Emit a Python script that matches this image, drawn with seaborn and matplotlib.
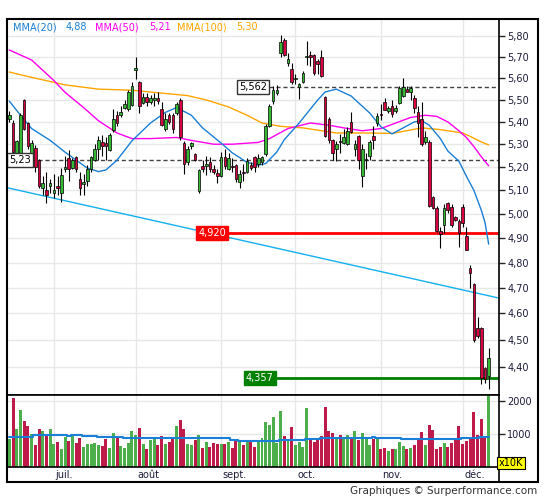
import numpy as np
import pandas as pd
import matplotlib
matplotlib.use('Agg')
import matplotlib.pyplot as plt
import seaborn as sns
from matplotlib.patches import Rectangle
from matplotlib.lines import Line2D
from matplotlib.ticker import FixedLocator, FuncFormatter, NullLocator

# daily candles, mid-June to early December (index 0..129)
opens = [5.415, 5.395, 5.26, 5.26, 5.50, 5.394, 5.26, 5.283, 5.23, 5.11,
         5.10, 5.12, 5.09, 5.12, 5.09, 5.19, 5.24, 5.195, 5.245, 5.15,
         5.125, 5.14, 5.19, 5.23, 5.28, 5.31, 5.305, 5.275, 5.365, 5.43,
         5.43, 5.465, 5.46, 5.475, 5.64, 5.585, 5.485, 5.515, 5.49, 5.50,
         5.51, 5.46, 5.37, 5.43, 5.43, 5.44, 5.50, 5.305, 5.22, 5.29,
         5.255, 5.095, 5.205, 5.205, 5.22, 5.19, 5.175, 5.16, 5.245, 5.19,
         5.205, 5.21, 5.135, 5.18, 5.18, 5.21, 5.245, 5.215, 5.22, 5.255,
         5.38, 5.495, 5.53, 5.72, 5.785, 5.675, 5.645, 5.595, 5.56, 5.585,
         5.70, 5.71, 5.71, 5.68, 5.70, 5.515, 5.415, 5.32, 5.28, 5.315,
         5.305, 5.30, 5.40, 5.28, 5.335, 5.16, 5.23, 5.25, 5.335, 5.395,
         5.435, 5.49, 5.45, 5.47, 5.45, 5.485, 5.52, 5.55, 5.535, 5.51,
         5.445, 5.415, 5.31, 5.31, 5.07, 5.025, 4.93, 4.955, 5.045, 5.03,
         4.985, 4.97, 5.03, 4.91, 4.78, 4.715, 4.545, 4.545, 4.395, 4.365]
highs = [5.45, 5.41, 5.32, 5.44, 5.505, 5.40, 5.32, 5.297, 5.235, 5.16,
         5.18, 5.15, 5.17, 5.16, 5.195, 5.25, 5.275, 5.24, 5.25, 5.18,
         5.17, 5.21, 5.25, 5.30, 5.335, 5.34, 5.33, 5.35, 5.46, 5.45,
         5.47, 5.50, 5.545, 5.585, 5.70, 5.59, 5.53, 5.53, 5.525, 5.53,
         5.535, 5.49, 5.44, 5.44, 5.44, 5.49, 5.51, 5.315, 5.29, 5.31,
         5.26, 5.19, 5.23, 5.25, 5.245, 5.21, 5.19, 5.265, 5.28, 5.26,
         5.24, 5.215, 5.185, 5.215, 5.24, 5.22, 5.25, 5.255, 5.25, 5.39,
         5.48, 5.565, 5.57, 5.807, 5.795, 5.72, 5.675, 5.62, 5.58, 5.635,
         5.78, 5.73, 5.715, 5.69, 5.735, 5.52, 5.42, 5.325, 5.315, 5.345,
         5.37, 5.375, 5.445, 5.32, 5.34, 5.30, 5.26, 5.32, 5.38, 5.44,
         5.48, 5.51, 5.47, 5.50, 5.475, 5.565, 5.60, 5.565, 5.565, 5.525,
         5.47, 5.49, 5.36, 5.32, 5.075, 5.035, 4.945, 5.04, 5.05, 5.04,
         4.99, 4.98, 5.04, 4.945, 4.79, 4.72, 4.585, 4.55, 4.40, 4.47]
lows = [5.40, 5.25, 5.245, 5.25, 5.365, 5.28, 5.23, 5.18, 5.11, 5.08,
        5.045, 5.09, 5.065, 5.08, 5.05, 5.18, 5.14, 5.19, 5.18, 5.08,
        5.08, 5.12, 5.18, 5.225, 5.23, 5.25, 5.23, 5.27, 5.355, 5.38,
        5.42, 5.46, 5.45, 5.47, 5.595, 5.44, 5.48, 5.47, 5.48, 5.47,
        5.48, 5.38, 5.36, 5.39, 5.35, 5.43, 5.32, 5.17, 5.21, 5.28,
        5.225, 5.09, 5.18, 5.165, 5.18, 5.17, 5.13, 5.155, 5.19, 5.185,
        5.18, 5.135, 5.11, 5.14, 5.175, 5.185, 5.18, 5.20, 5.21, 5.25,
        5.375, 5.48, 5.525, 5.70, 5.705, 5.66, 5.575, 5.575, 5.505, 5.58,
        5.665, 5.66, 5.615, 5.62, 5.605, 5.33, 5.305, 5.23, 5.225, 5.26,
        5.30, 5.295, 5.35, 5.25, 5.19, 5.115, 5.19, 5.23, 5.28, 5.38,
        5.41, 5.455, 5.44, 5.42, 5.44, 5.48, 5.515, 5.535, 5.50, 5.44,
        5.33, 5.29, 5.30, 5.03, 5.02, 4.925, 4.86, 4.92, 5.005, 4.945,
        4.97, 4.865, 4.945, 4.85, 4.70, 4.49, 4.505, 4.335, 4.34, 4.32]
closes = [5.43, 5.267, 5.315, 5.43, 5.37, 5.29, 5.305, 5.20, 5.12, 5.13,
          5.08, 5.13, 5.10, 5.11, 5.165, 5.20, 5.19, 5.23, 5.19, 5.11,
          5.135, 5.19, 5.245, 5.28, 5.32, 5.29, 5.29, 5.34, 5.415, 5.395,
          5.445, 5.48, 5.535, 5.565, 5.65, 5.47, 5.515, 5.49, 5.51, 5.51,
          5.495, 5.385, 5.415, 5.40, 5.37, 5.48, 5.33, 5.215, 5.28, 5.305,
          5.23, 5.185, 5.19, 5.215, 5.19, 5.18, 5.16, 5.245, 5.205, 5.24,
          5.20, 5.15, 5.17, 5.175, 5.225, 5.195, 5.20, 5.24, 5.245, 5.38,
          5.47, 5.545, 5.545, 5.775, 5.71, 5.69, 5.585, 5.60, 5.575, 5.625,
          5.705, 5.70, 5.625, 5.67, 5.61, 5.335, 5.32, 5.26, 5.30, 5.31,
          5.33, 5.36, 5.355, 5.30, 5.23, 5.28, 5.235, 5.31, 5.32, 5.425,
          5.43, 5.455, 5.465, 5.435, 5.465, 5.555, 5.56, 5.535, 5.555, 5.465,
          5.395, 5.30, 5.33, 5.035, 5.025, 4.93, 4.915, 5.025, 5.015, 4.955,
          4.975, 4.92, 4.96, 4.85, 4.76, 4.50, 4.515, 4.357, 4.355, 4.43]
# volume in units of 10K
volumes = [848, 2091, 1152, 1727, 1394, 1242, 1000, 667, 1152, 1091,
           970, 1152, 697, 758, 545, 909, 788, 970, 727, 879,
           606, 697, 697, 727, 667, 636, 848, 576, 1030, 909,
           636, 576, 727, 1091, 970, 1182, 697, 545, 818, 848,
           667, 939, 697, 758, 848, 1242, 1424, 1152, 697, 667,
           818, 970, 576, 758, 606, 727, 697, 697, 697, 758,
           576, 818, 788, 667, 818, 758, 606, 758, 879, 1364,
           1273, 1515, 727, 1697, 939, 818, 1212, 667, 758, 606,
           1788, 848, 758, 818, 939, 1818, 1091, 1030, 909, 970,
           848, 970, 879, 1091, 818, 1030, 909, 667, 848, 879,
           545, 576, 485, 545, 545, 758, 636, 545, 576, 667,
           818, 1061, 667, 1273, 1121, 545, 606, 727, 606, 727,
           818, 1242, 697, 788, 848, 1667, 970, 1455, 939, 2300]
# volume average, read as flat runs (run length, level)
vol_ma_len = [7, 9, 1, 3, 4, 7, 17, 12, 2, 11, 7, 4, 14, 1, 7, 16, 5, 3]
vol_ma_val = [909, 960, 929, 960, 929, 909, 879, 869, 828, 778, 808, 848, 869, 899, 869, 838, 869, 909]

# moving averages
ma20_idx = [0, 3, 6, 11, 15, 21, 24, 26, 29, 33, 38, 42, 45, 49, 52, 57, 60, 64, 67, 69, 72,
            74, 78, 83, 85, 88, 92, 97, 100, 103, 106, 109, 111, 113, 116, 118, 121, 123, 125,
            127, 128, 129]
ma20_val = [5.495, 5.43, 5.37, 5.317, 5.265, 5.195, 5.18, 5.187, 5.23, 5.315, 5.395, 5.443,
            5.465, 5.43, 5.373, 5.305, 5.262, 5.22, 5.208, 5.215, 5.266, 5.32, 5.395, 5.50,
            5.537, 5.55, 5.518, 5.44, 5.378, 5.346, 5.373, 5.40, 5.405, 5.385, 5.325, 5.27,
            5.225, 5.16, 5.10, 5.016, 4.965, 4.875]
ma50_idx = [0, 6, 12, 15, 20, 24, 29, 33, 38, 45, 49, 55, 60, 67, 70, 75, 81, 86, 91, 95,
            100, 104, 108, 112, 115, 118, 121, 123, 125, 127, 129]
ma50_val = [5.735, 5.687, 5.59, 5.535, 5.465, 5.405, 5.35, 5.325, 5.325, 5.33, 5.317, 5.30,
            5.30, 5.308, 5.325, 5.37, 5.395, 5.385, 5.37, 5.36, 5.37, 5.395, 5.42, 5.43,
            5.425, 5.40, 5.36, 5.33, 5.29, 5.245, 5.205]
ma100_idx = [0, 6, 15, 24, 33, 42, 48, 53, 59, 64, 68, 73, 79, 88, 97, 103, 111, 116, 122,
             124, 127, 129]
ma100_val = [5.63, 5.605, 5.57, 5.55, 5.545, 5.53, 5.52, 5.50, 5.468, 5.43, 5.395, 5.38,
             5.373, 5.35, 5.35, 5.348, 5.373, 5.365, 5.35, 5.335, 5.31, 5.297]
trend_idx = [-1, 132]
trend_val = [5.112, 4.659]

ma_names = ['MMA(20)', 'MMA(50)', 'MMA(100)']
ma_last = ['4,88', '5,21', '5,30']
level_dash = [5.562, 5.23]
level_red = 4.920
level_green = 4.357

month_idx = [12, 34, 57, 77, 100, 122]
month_labels = ['juil.', 'août', 'sept.', 'oct.', 'nov.', 'déc.']
price_ticks = [4.40, 4.50, 4.60, 4.70, 4.80, 4.90, 5.00, 5.10, 5.20, 5.30, 5.40, 5.50,
               5.60, 5.70, 5.80]
vol_ticks = [1000, 2000]

df = pd.DataFrame({'i': np.arange(len(opens)), 'open': opens, 'high': highs,
                   'low': lows, 'close': closes, 'vol': volumes})
df['dir'] = np.where(df['close'] >= df['open'], 'up', 'down')
df['vol_ma'] = np.repeat(vol_ma_val, vol_ma_len)

sns.set_style('white')
plt.rcParams['font.family'] = ['DejaVu Sans']

GREEN = '#35b935'
RED = '#d9003f'
C20, C50, C100 = '#1a7fd6', '#ff00ee', '#ffa500'
TXT = '#1c1c3a'
W, H = 545, 500

fig = plt.figure(figsize=(W / 100, H / 100), dpi=100)
ax = fig.add_axes([7 / W, 1 - 395 / H, 492 / W, 376 / H])
axv = fig.add_axes([7 / W, 1 - 467 / H, 492 / W, 72 / H])

# price panel
ax.set_yscale('log')
ax.set_ylim(4.2967, 5.8855)
ax.set_xlim(-0.62, 131.78)
ax.yaxis.set_major_locator(FixedLocator(price_ticks))
ax.yaxis.set_minor_locator(NullLocator())
ax.yaxis.set_major_formatter(FuncFormatter(lambda v, p: f'{v:.2f}'.replace('.', ',')))
ax.yaxis.tick_right()
ax.tick_params(axis='y', direction='out', length=4, width=1, pad=2, labelsize=7,
               labelcolor=TXT)
ax.set_xticks(month_idx)
ax.tick_params(axis='x', length=0, labelbottom=False)
ax.grid(True, color='#e8e8e8', lw=1)
ax.set_axisbelow(True)

sns.lineplot(x=trend_idx, y=trend_val, ax=ax, color='#14b0f0', lw=1, zorder=2)
ax.hlines(level_dash, [69.8, 5.9], 132, colors='#444444', linestyles=(0, (3, 2)), lw=1, zorder=2)
ax.hlines(level_red, 58.8, 132, colors='#ff0000', lw=2, zorder=2)
ax.hlines(level_green, 71.5, 132, colors='#008000', lw=2, zorder=2)

for xs, ys, c in [(ma100_idx, ma100_val, C100), (ma50_idx, ma50_val, C50),
                  (ma20_idx, ma20_val, C20)]:
    sns.lineplot(x=xs, y=ys, ax=ax, color=c, lw=1, zorder=3)

# candles
colors = np.where(df['dir'] == 'up', GREEN, RED)
ax.vlines(df['i'], df['low'], df['high'], color='black', lw=0.8, zorder=4)
body_lo = np.minimum(df['open'], df['close'])
body_h = np.abs(df['close'] - df['open'])
ax.bar(df['i'], body_h, bottom=body_lo, width=0.7, color=colors, edgecolor='black',
       lw=0.5, zorder=5)

# price tags
ax.text(69.4, level_dash[0], '5,562', ha='right', va='center', fontsize=7, color='black',
        bbox=dict(boxstyle='square,pad=0.2', fc='white', ec='#333333', lw=1), zorder=6)
ax.text(-0.1, level_dash[1], '5,23', ha='left', va='center', fontsize=7, color='black',
        bbox=dict(boxstyle='square,pad=0.2', fc='white', ec='#333333', lw=1), zorder=6)
ax.text(58.3, level_red, '4,920', ha='right', va='center', fontsize=7, color='white',
        bbox=dict(boxstyle='square,pad=0.2', fc='#ff0000', ec='#ff0000', lw=1), zorder=6)
ax.text(71.2, level_green, '4,357', ha='right', va='center', fontsize=7, color='white',
        bbox=dict(boxstyle='square,pad=0.2', fc='#008000', ec='#008000', lw=1), zorder=6)

for s in ax.spines.values():
    s.set_color('black')
    s.set_linewidth(1.2)

# legend line at the top
legend_x = [13, 66, 95, 149, 177, 236]
legend_txt = [ma_names[0], ma_last[0], ma_names[1], ma_last[1], ma_names[2], ma_last[2]]
legend_col = [C20, C20, C50, C50, C100, C100]
for x, t, c in zip(legend_x, legend_txt, legend_col):
    fig.text(x / W, 1 - 27 / H, t, color=c, fontsize=7, ha='left', va='center')

# volume panel
sns.barplot(data=df, x='i', y='vol', hue='dir', palette={'up': '#3cbf3c', 'down': RED},
            native_scale=True, dodge=False, width=0.8, errorbar=None, legend=False,
            linewidth=0, ax=axv)
sns.lineplot(data=df, x='i', y='vol_ma', ax=axv, color=C20, lw=1.5, drawstyle='steps-mid',
             zorder=5)
axv.set_xlim(-0.62, 131.78)
axv.set_ylim(0, 2180)
axv.set_xlabel('')
axv.set_ylabel('')
axv.yaxis.tick_right()
axv.set_yticks(vol_ticks)
axv.set_yticklabels([str(v) for v in vol_ticks])
axv.tick_params(axis='y', direction='out', length=4, width=1, pad=2, labelsize=7,
                labelcolor=TXT)
axv.set_xticks(month_idx)
axv.tick_params(axis='x', length=0, labelbottom=False)
axv.grid(True, color='#e8e8e8', lw=1)
axv.set_axisbelow(True)
for s in axv.spines.values():
    s.set_color('black')
    s.set_linewidth(1.2)

for m, lab in zip(month_idx, month_labels):
    axv.text(m + 0.45, -0.11, lab, transform=axv.get_xaxis_transform(), ha='left',
             va='center', fontsize=7, color=TXT)

# outer frame and axis line down to it
fig.add_artist(Rectangle((7 / W, 1 - 482 / H), 531 / W, 463 / H, fill=False, ec='black',
                         lw=1.5, transform=fig.transFigure))
fig.add_artist(Line2D([499 / W, 499 / W], [1 - 467 / H, 1 - 482 / H], color='black', lw=1.2,
                      transform=fig.transFigure))

fig.text(511 / W, 1 - 463 / H, 'x10K', fontsize=7, ha='center', va='center', color='black',
         bbox=dict(boxstyle='square,pad=0.15', fc='#ffff00', ec='black', lw=0.8))
fig.text(537 / W, 1 - 491 / H, 'Graphiques \u00a9 Surperformance.com', fontsize=7.5,
         ha='right', va='center', color='#333333')

fig.savefig('out.png', dpi=100)
